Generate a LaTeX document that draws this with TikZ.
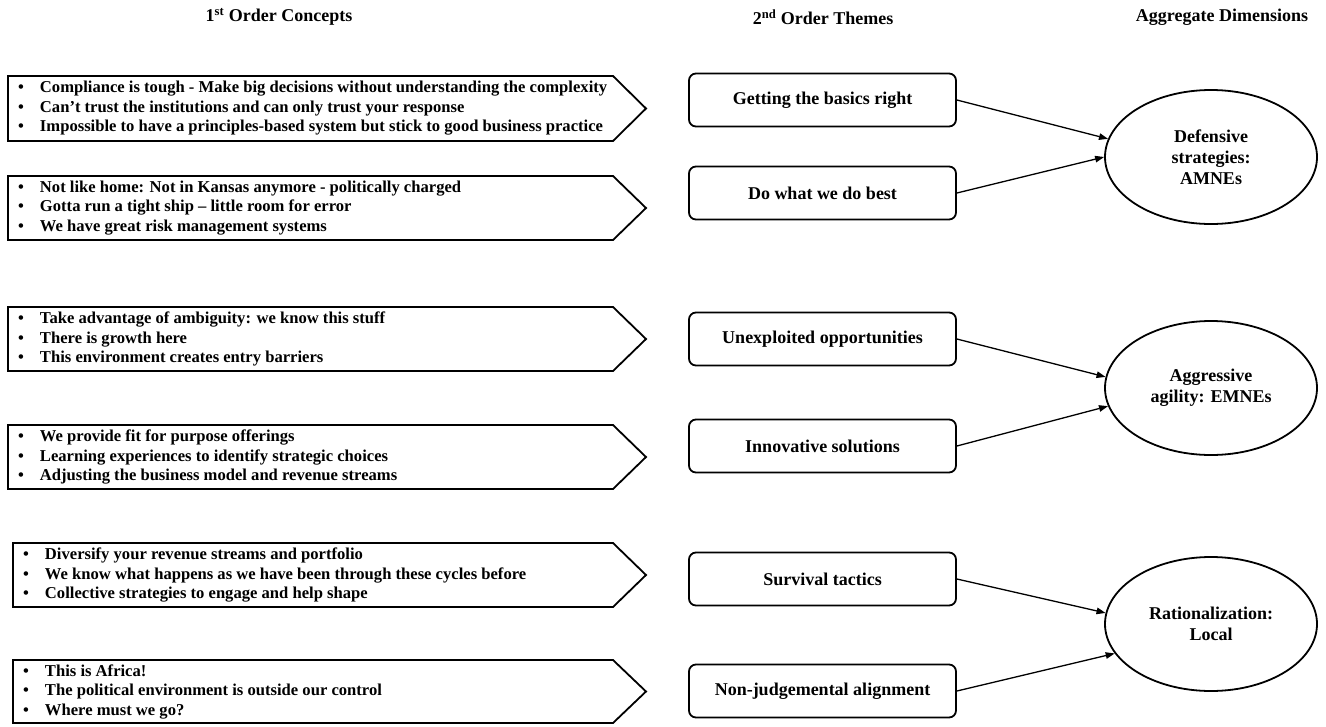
\documentclass[tikz,border=0pt]{standalone}
\usepackage{fontspec}
\setmainfont{Liberation Serif}
\usetikzlibrary{arrows.meta,shapes.geometric}
\begin{document}
\begin{tikzpicture}[x=1pt,y=-1pt,
  boxline/.style={draw=black,line width=1.8pt,line join=miter},
  listtext/.style={anchor=west,inner sep=0pt,align=left,font=\fontsize{16.6}{19.5}\selectfont\bfseries},
  head/.style={inner sep=0pt,font=\fontsize{18}{21}\selectfont\bfseries},
  theme/.style={draw=black,line width=1.8pt,rounded corners=7pt,minimum width=267pt,minimum height=53pt,inner sep=0pt,font=\fontsize{18}{21}\selectfont\bfseries},
  dim/.style={draw=black,ellipse,line width=1.8pt,minimum width=212pt,minimum height=134pt,inner sep=0pt,align=center,font=\fontsize{18}{21}\selectfont\bfseries},
  conn/.style={line width=1.3pt,-{Triangle[length=9pt,width=6.5pt]}}]
\useasboundingbox (0,0) rectangle (1326,726);
\newcommand\abox[5]{%
  \draw[boxline] (#2,#3) -- (613,#3) -- (646,{(#3+#4)/2}) -- (613,#4) -- (#2,#4) -- cycle;
  \node[listtext] (#1) at ({#2+10},{(#3+#4)/2}) {#5};}
\newcommand\bl{\textbullet\hspace{16pt}}
% headers
\node[head] (h1) at (279,17) {1\textsuperscript{st} Order Concepts};
\node[head] (h2) at (823,17) {2\textsuperscript{nd} Order Themes};
\node[head] (h3) at (1222,17) {Aggregate Dimensions};
% first order boxes
\abox{c1}{8}{76}{141}{\bl Compliance is tough - Make big decisions without understanding the complexity\\\bl Can’t trust the institutions and can only trust your response\\\bl Impossible to have a principles-based system but stick to good business practice}
\abox{c2}{8}{176}{240}{\bl Not like home: Not in Kansas anymore - politically charged\\\bl Gotta run a tight ship – little room for error\\\bl We have great risk management systems}
\abox{c3}{8}{307}{371}{\bl Take advantage of ambiguity: we know this stuff\\\bl There is growth here\\\bl This environment creates entry barriers}
\abox{c4}{8}{425}{489}{\bl We provide fit for purpose offerings\\\bl Learning experiences to identify strategic choices\\\bl Adjusting the business model and revenue streams}
\abox{c5}{13}{543}{607}{\bl Diversify your revenue streams and portfolio\\\bl We know what happens as we have been through these cycles before\\\bl Collective strategies to engage and help shape}
\abox{c6}{13}{660}{723}{\bl This is Africa!\\\bl The political environment is outside our control\\\bl Where must we go?}
% themes
\node[theme] (t1) at (822.5,100) {Getting the basics right};
\node[theme] (t2) at (822.5,193) {Do what we do best};
\node[theme] (t3) at (822.5,339) {Unexploited opportunities};
\node[theme] (t4) at (822.5,446) {Innovative solutions};
\node[theme] (t5) at (822.5,579) {Survival tactics};
\node[theme] (t6) at (822.5,691) {Non-judgemental alignment};
% dimensions
\node[dim] (d1) at (1211,157) {Defensive\\strategies:\\AMNEs};
\node[dim] (d2) at (1211,388) {Aggressive\\agility: EMNEs};
\node[dim] (d3) at (1211,624) {Rationalization:\\Local};
% connectors
\draw[conn] (t1.east) -- (d1.170);
\draw[conn] (t2.east) -- (d1.180);
\draw[conn] (t3.east) -- (d2.174);
\draw[conn] (t4.east) -- (d2.190);
\draw[conn] (t5.east) -- (d3.174);
\draw[conn] (t6.east) -- (d3.197);
\end{tikzpicture}
\end{document}
